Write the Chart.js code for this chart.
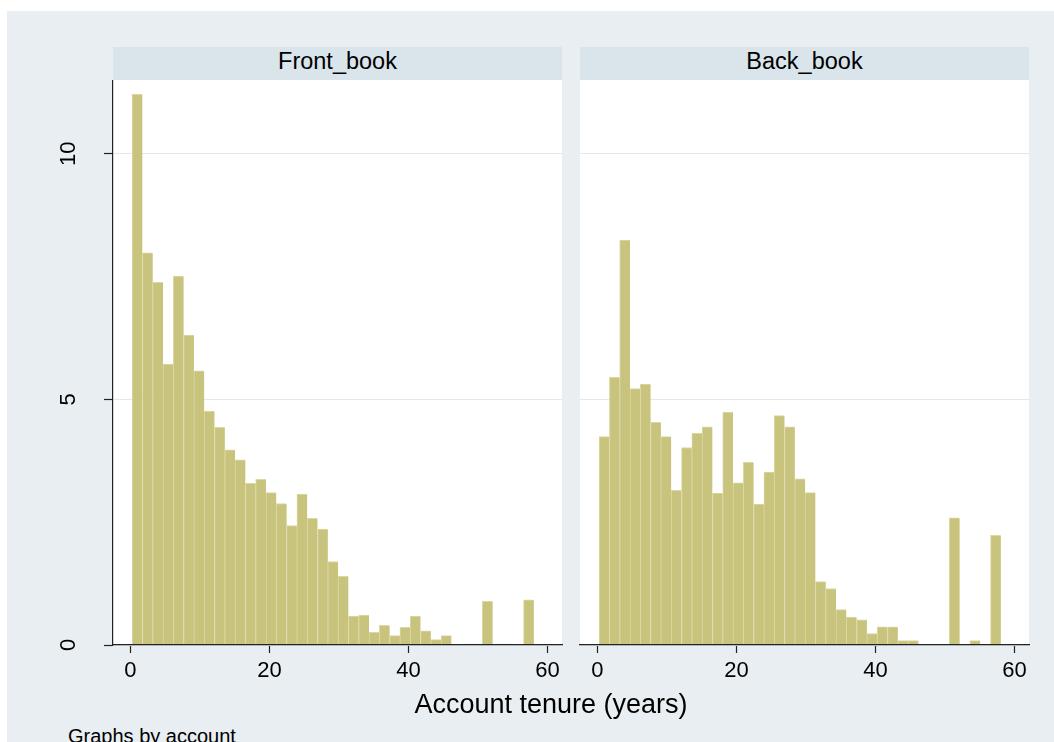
<!DOCTYPE html>
<html>
<head>
<meta charset="utf-8">
<title>Account tenure by book</title>
<script src="https://cdn.jsdelivr.net/npm/chart.js@4.4.1/dist/chart.umd.min.js"></script>
<style>
  html, body { margin: 0; padding: 0; background: #ffffff; width: 1054px; height: 742px; overflow: hidden;
    font-family: "Liberation Sans", Arial, sans-serif; color: #000; }
  #graph { position: absolute; left: 7px; top: 11px; width: 1047px; height: 731px; background: #e8eef1; }
  .strip { position: absolute; top: 47px; height: 33px; width: 449px; background: #d9e5ea;
    font-size: 23.5px; line-height: 29px; text-align: center; white-space: nowrap; }
  canvas { position: absolute; }
  #xtitle { position: absolute; left: 351px; width: 400px; top: 691px; font-size: 27px; line-height: 27px;
    text-align: center; white-space: nowrap; }
  #note { position: absolute; left: 68px; top: 726px; font-size: 20px; line-height: 20px; white-space: nowrap; }
</style>
</head>
<body>
<div id="graph"></div>
<div class="strip" id="stripFront" style="left:113px"></div>
<div class="strip" id="stripBack" style="left:580px"></div>
<canvas id="frontChart" width="530" height="610" style="left:40px; top:80px"></canvas>
<canvas id="backChart" width="482" height="610" style="left:572px; top:80px"></canvas>
<div id="xtitle"></div>
<div id="note"></div>

<script>
// Panel names (one histogram per account book)
const panels = ["Front_book", "Back_book"];

// Histogram bins: lower edge of the first bin and the common bin width (years)
const binStart = 0.25;
const binWidth = 1.482;

// Percent of accounts in each tenure bin
const frontBook = [11.21, 7.98, 7.38, 5.72, 7.51, 6.31, 5.58, 4.76, 4.43, 3.97,
                   3.77, 3.29, 3.37, 3.10, 2.88, 2.43, 3.07, 2.58, 2.36, 1.70,
                   1.40, 0.59, 0.61, 0.26, 0.40, 0.19, 0.36, 0.59, 0.29, 0.11,
                   0.19, 0, 0.02, 0.02, 0.89, 0.02, 0.02, 0, 0.92];
const backBook  = [4.24, 5.45, 8.24, 5.22, 5.31, 4.53, 4.24, 3.15, 4.02, 4.31,
                   4.44, 3.09, 4.74, 3.30, 3.72, 2.87, 3.52, 4.67, 4.44, 3.38,
                   3.10, 1.29, 1.15, 0.72, 0.57, 0.51, 0.23, 0.37, 0.37, 0.09,
                   0.09, 0, 0, 0, 2.59, 0, 0.09, 0, 2.23];

// Axis ticks and ranges
const xTicks = [0, 20, 40, 60];
const yTicks = [0, 5, 10];
const xRange = [-2.5, 62.1];
const yRange = [0, 11.5];

const xTitle = "Account tenure (years)";
const note = "Graphs by account";

document.getElementById("stripFront").textContent = panels[0];
document.getElementById("stripBack").textContent = panels[1];
document.getElementById("xtitle").textContent = xTitle;
document.getElementById("note").textContent = note;

Chart.defaults.font.family = '"Liberation Sans", Arial, sans-serif';
Chart.defaults.color = "#000";

const BAR_FILL = "#c8c37d";
const BAR_EDGE = "#dcd8a3";
const AXIS = "#222222";
const GRID = "#e1e9ec";

// White plot region behind grid and bars
const plotBackground = {
  id: "plotBackground",
  beforeDraw(chart) {
    const { ctx, chartArea: a } = chart;
    ctx.save();
    ctx.fillStyle = "#ffffff";
    ctx.fillRect(a.left, a.top, a.right - a.left, a.bottom - a.top);
    ctx.restore();
  }
};

function binPoints(values) {
  return values.map((v, i) => ({ x: binStart + (i + 0.5) * binWidth, y: v }));
}

function makeChart(canvasId, values, showYAxis, yWidth, rightPad) {
  return new Chart(document.getElementById(canvasId), {
    type: "bar",
    data: {
      datasets: [{
        data: binPoints(values),
        backgroundColor: BAR_FILL,
        borderColor: BAR_EDGE,
        borderWidth: { top: 1, left: 1, right: 0, bottom: 0 },
        borderSkipped: false,
        barPercentage: 1,
        categoryPercentage: 1
      }]
    },
    options: {
      responsive: false,
      animation: false,
      devicePixelRatio: 1,
      layout: { padding: { top: 0, left: 0, bottom: 0, right: rightPad } },
      plugins: { legend: { display: false }, tooltip: { enabled: false }, title: { display: false } },
      scales: {
        x: {
          type: "linear",
          min: xRange[0],
          max: xRange[1],
          offset: false,
          grid: { display: true, offset: false, drawOnChartArea: false, drawTicks: true,
                  tickLength: 8, tickColor: AXIS, tickWidth: 1.2 },
          border: { display: true, color: AXIS, width: 1.2, z: 1 },
          ticks: { font: { size: 22 }, color: "#000", padding: 5, maxRotation: 0, minRotation: 0,
                   callback: v => String(v) },
          afterBuildTicks: s => { s.ticks = xTicks.map(v => ({ value: v })); },
          afterFit: s => { s.height = 45; s.paddingLeft = 0; s.paddingRight = 0; }
        },
        y: {
          type: "linear",
          min: yRange[0],
          max: yRange[1],
          grid: { display: true, color: GRID, lineWidth: 1, drawOnChartArea: true,
                  drawTicks: showYAxis, tickLength: 9, tickColor: AXIS, tickWidth: 1.2 },
          border: { display: showYAxis, color: AXIS, width: 1.2, z: 1 },
          ticks: { display: showYAxis, font: { size: 22 }, color: "#000", padding: 23,
                   minRotation: 90, maxRotation: 90, crossAlign: "center",
                   callback: v => String(v) },
          afterBuildTicks: s => { s.ticks = yTicks.map(v => ({ value: v })); },
          afterFit: s => { s.width = yWidth; s.paddingTop = 0; s.paddingBottom = 0; }
        }
      }
    },
    plugins: [plotBackground]
  });
}

makeChart("frontChart", frontBook, true, 73, 8);
makeChart("backChart", backBook, false, 8, 25);
</script>
</body>
</html>
